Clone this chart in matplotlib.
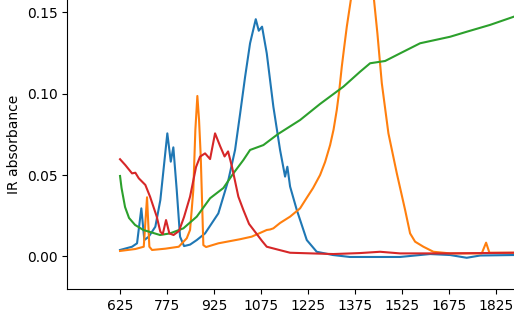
import matplotlib
matplotlib.use("Agg")
import matplotlib.pyplot as plt

# Blue series
blue_x = [625, 663.3, 679.3, 693, 702.6, 716.7, 737.7, 753.7, 776, 787, 795.2, 806, 816.6, 829.4,
          848.6, 870, 896.5, 938.9, 970.9, 992.3, 1008.3, 1024.3, 1040.2, 1058.4, 1068, 1078.5,
          1093.5, 1114.6, 1136, 1152, 1159.3, 1168, 1189.4, 1221.3, 1253, 1305, 1359, 1519, 1615,
          1679, 1732, 1775, 1883]
blue_y = [0.0039, 0.0059, 0.0080, 0.0295, 0.0100, 0.0121, 0.0182, 0.0346, 0.0756, 0.0582, 0.067,
          0.0408, 0.0121, 0.0063, 0.0072, 0.0100, 0.0141, 0.0264, 0.0469, 0.0654, 0.0875, 0.1103,
          0.131, 0.1458, 0.1387, 0.1412, 0.1248, 0.092, 0.0654, 0.049, 0.0551, 0.0429, 0.0285,
          0.010, 0.0028, 0.0008, -0.0004, -0.0004, 0.0014, 0.0008, -0.0009, 0.0005, 0.0008]

# Orange series
orange_x = [625, 673.9, 700.7, 711.2, 718.6, 727.2, 769.7, 812.5, 838, 848.6, 859, 865.5, 871.9,
            877.3, 882.7, 891, 899.7, 939, 1008, 1045.6, 1093.5, 1104, 1114.6, 1136, 1168, 1199.9,
            1221.3, 1241.4, 1263.8, 1279.8, 1295.8, 1306.9, 1317.1, 1324.5, 1333.1, 1340.4, 1349.1,
            1361.9, 1382, 1398, 1417, 1436, 1446.8, 1460.9, 1482, 1508.8, 1535.3, 1551.2, 1567.2,
            1593.7, 1625.7, 1679, 1780, 1793.9, 1804.5, 1883]
orange_y = [0.0033, 0.0045, 0.0059, 0.0363, 0.0059, 0.0039, 0.0047, 0.0059, 0.0111, 0.0162, 0.0408,
            0.0777, 0.0986, 0.0838, 0.0613, 0.0069, 0.0057, 0.008, 0.0105, 0.0121, 0.0162, 0.0165,
            0.0172, 0.0205, 0.0244, 0.0295, 0.036, 0.042, 0.050, 0.058, 0.0684, 0.078, 0.090, 0.101,
            0.1166, 0.128, 0.1412, 0.1576, 0.185, 0.197, 0.185, 0.1576, 0.1371, 0.1064, 0.0756,
            0.051, 0.0285, 0.0141, 0.009, 0.0059, 0.0028, 0.0018, 0.0018, 0.0084, 0.0022, 0.0022]

# Green series
green_x = [625, 629.8, 641, 653.7, 672.9, 699.4, 752.8, 784.7, 827.2, 870, 912.5, 955, 986.9,
           1018.8, 1040.2, 1082.7, 1129.6, 1199.9, 1263.8, 1338.2, 1391.5, 1423.5, 1471.4, 1519.3,
           1583.2, 1679, 1732.3, 1806.7, 1883.4]
green_y = [0.0494, 0.042, 0.0303, 0.0236, 0.0193, 0.0162, 0.0131, 0.0141, 0.0172, 0.0244, 0.0357,
           0.042, 0.051, 0.0592, 0.0654, 0.0684, 0.0752, 0.0838, 0.0937, 0.1043, 0.1135, 0.1187,
           0.1201, 0.1248, 0.131, 0.135, 0.1381, 0.1423, 0.1474]

# Red series
red_x = [625, 641.9, 663.3, 673.9, 684.7, 705.8, 720.8, 742.2, 753.7, 761.4, 771.9, 782.5, 795.9,
         813.4, 829.4, 848.6, 867.7, 880.5, 896.5, 912.5, 928.4, 944.5, 958.8, 970, 982.7, 1002.8,
         1018.8, 1037, 1061.6, 1078.5, 1093.5, 1125.5, 1168, 1253, 1306, 1391, 1455.4, 1519, 1679, 1883]
red_y = [0.0597, 0.0561, 0.051, 0.0514, 0.048, 0.0439, 0.0367, 0.0244, 0.0151, 0.0137, 0.0223,
         0.0141, 0.0131, 0.0156, 0.0242, 0.0367, 0.0549, 0.0613, 0.0633, 0.0598, 0.0756, 0.0678,
         0.0614, 0.0645, 0.0549, 0.0367, 0.0285, 0.0199, 0.0137, 0.0094, 0.0059, 0.0043, 0.0022,
         0.0017, 0.0014, 0.002, 0.0028, 0.0018, 0.0018, 0.0022]

x_ticks = [625, 775, 925, 1075, 1225, 1375, 1525, 1675, 1825]
y_ticks = [0.00, 0.05, 0.10, 0.15]

fig = plt.figure(figsize=(5.14, 3.15), dpi=100)
ax = fig.add_axes([0.131, 0.0825, 0.869, 0.9175])
ax.plot(blue_x, blue_y, color="#1f77b4", lw=1.5)
ax.plot(orange_x, orange_y, color="#ff7f0e", lw=1.5)
ax.plot(green_x, green_y, color="#2ca02c", lw=1.5)
ax.plot(red_x, red_y, color="#d62728", lw=1.5)
ax.set_xlim(456.7, 1883)
ax.set_ylim(-0.0201, 0.1576)
ax.set_xticks(x_ticks)
ax.set_xticklabels([str(t) for t in x_ticks])
ax.set_yticks(y_ticks)
ax.set_yticklabels([f"{t:.2f}" for t in y_ticks])
ax.set_ylabel("IR absorbance")
ax.spines["top"].set_visible(False)
ax.spines["right"].set_visible(False)
fig.savefig("out.png", dpi=100)
